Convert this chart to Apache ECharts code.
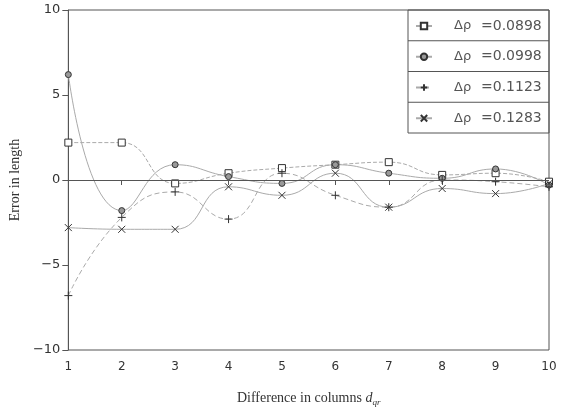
<!DOCTYPE html>
<html lang="en">
<head>
    <meta charset="UTF-8">
    <title>Error in length</title>
    <style>
        html, body { margin: 0; padding: 0; background: #fff; }
    </style>
</head>
<body>

    <!-- ECharts -->
    <script src="https://cdn.jsdelivr.net/npm/echarts@6/dist/echarts.min.js"></script>

    <div id="main" style="width: 565px;height:412px;"></div>

    <script>
        // x positions: difference in columns
        var columns = [1, 2, 3, 4, 5, 6, 7, 8, 9, 10];
        // legend values (delta rho)
        var deltaRho = ['0.0898', '0.0998', '0.1123', '0.1283'];
        // error in length, one array per curve
        var err0898 = [2.2, 2.2, -0.2, 0.4, 0.7, 0.9, 1.05, 0.3, 0.4, -0.1];
        var err0998 = [6.2, -1.8, 0.9, 0.2, -0.2, 0.9, 0.4, 0.1, 0.65, -0.3];
        var err1123 = [-6.8, -2.2, -0.7, -2.3, 0.4, -0.9, -1.6, 0.0, -0.1, -0.4];
        var err1283 = [-2.8, -2.9, -2.9, -0.4, -0.9, 0.4, -1.6, -0.5, -0.8, -0.2];
        var yTicks = [-10, -5, 0, 5, 10];

        var symbols = [
            'rect',
            'circle',
            'path://M0,5L10,5M5,0L5,10',
            'path://M0,0L10,10M10,0L0,10'
        ];
        var symbolSizes = [7, 6, 8, 7];
        var fills = ['#fff', '#999', 'none', 'none'];
        var dashes = [[4, 2], 'solid', [5, 3], 'solid'];
        var allErr = [err0898, err0998, err1123, err1283];

        function pairs(ys) {
            var out = [];
            for (var i = 0; i < columns.length; i++) {
                out.push([columns[i], ys[i]]);
            }
            return out;
        }

        var series = [];
        for (var k = 0; k < allErr.length; k++) {
            series.push({
                name: 'Δρ =' + deltaRho[k],
                type: 'line',
                smooth: 0.5,
                data: pairs(allErr[k]),
                symbol: symbols[k],
                symbolSize: symbolSizes[k],
                showAllSymbol: true,
                itemStyle: { color: fills[k], borderColor: '#333', borderWidth: 1 },
                lineStyle: { color: '#aaa', width: 1, type: dashes[k] },
                emphasis: { disabled: true },
                z: 3
            });
        }
        // zero line
        series[0].markLine = {
            silent: true,
            symbol: 'none',
            label: { show: false },
            lineStyle: { color: '#555', width: 1, type: 'solid' },
            data: [{ yAxis: 0 }]
        };

        var myChart = echarts.init(document.getElementById('main'));

        var legendLeft = 408, legendTop = 10, legendW = 141, rowH = 30.75;

        var option = {
            animation: false,
            backgroundColor: '#fff',
            grid: {
                left: 67, right: 16, top: 10, bottom: 61,
                show: true, borderColor: '#555', borderWidth: 1
            },
            legend: {
                orient: 'vertical',
                left: legendLeft + 7,
                top: legendTop + 8,
                padding: 0,
                z: 10,
                itemWidth: 16,
                itemHeight: 8,
                itemGap: rowH - 16,
                data: series.map(function (s) { return s.name; }),
                formatter: function (name) {
                    var parts = name.split('=');
                    return '{a|' + parts[0].trim() + '}{b|=' + parts[1] + '}';
                },
                textStyle: {
                    color: '#555',
                    fontFamily: 'DejaVu Sans',
                    fontSize: 14,
                    lineHeight: 16,
                    rich: {
                        a: { padding: [0, 0, 0, 17], width: 27, fontSize: 13, lineHeight: 16, fontFamily: 'DejaVu Sans', color: '#555' },
                        b: { fontSize: 14, lineHeight: 16, fontFamily: 'DejaVu Sans', color: '#555' }
                    }
                }
            },
            xAxis: {
                type: 'value',
                min: 1, max: 10, interval: 1,
                name: '{t|Difference in columns }{i|d}{s|qr}',
                nameLocation: 'middle',
                nameGap: 40,
                nameTextStyle: {
                    rich: {
                        t: { fontFamily: 'Liberation Serif', fontSize: 14, color: '#333' },
                        i: { fontFamily: 'Liberation Serif', fontStyle: 'italic', fontSize: 14, color: '#333' },
                        s: { fontFamily: 'Liberation Serif', fontStyle: 'italic', fontSize: 9, color: '#333', padding: [8, 0, 0, 0] }
                    }
                },
                axisLine: { lineStyle: { color: '#555' } },
                axisTick: { inside: false, length: 5, lineStyle: { color: '#555' } },
                axisLabel: { color: '#333', fontFamily: 'DejaVu Sans', fontSize: 12, margin: 11 },
                splitLine: { show: false }
            },
            yAxis: {
                type: 'value',
                min: yTicks[0], max: yTicks[yTicks.length - 1], interval: 5,
                name: 'Error in length',
                nameLocation: 'middle',
                nameGap: 36,
                nameTextStyle: { fontFamily: 'Liberation Serif', fontSize: 14, color: '#333' },
                axisLine: { show: true, lineStyle: { color: '#555' } },
                axisTick: { show: true, inside: false, length: 6, lineStyle: { color: '#555' } },
                axisLabel: {
                    color: '#333', fontFamily: 'DejaVu Sans', fontSize: 13, margin: 8,
                    formatter: function (v) { return v < 0 ? '\u2212' + Math.abs(v) : String(v); }
                },
                splitLine: { show: false }
            },
            graphic: [
                {
                    type: 'rect',
                    shape: { x: legendLeft, y: legendTop, width: legendW, height: rowH * 4 },
                    style: { fill: 'none', stroke: '#555', lineWidth: 1 },
                    z: 1
                },
                { type: 'line', shape: { x1: legendLeft, y1: legendTop + rowH, x2: legendLeft + legendW, y2: legendTop + rowH }, style: { stroke: '#555', lineWidth: 1 }, z: 1 },
                { type: 'line', shape: { x1: legendLeft, y1: legendTop + rowH * 2, x2: legendLeft + legendW, y2: legendTop + rowH * 2 }, style: { stroke: '#555', lineWidth: 1 }, z: 1 },
                { type: 'line', shape: { x1: legendLeft, y1: legendTop + rowH * 3, x2: legendLeft + legendW, y2: legendTop + rowH * 3 }, style: { stroke: '#555', lineWidth: 1 }, z: 1 }
            ],
            series: series
        };

        myChart.setOption(option);
    </script>

</body>
</html>
